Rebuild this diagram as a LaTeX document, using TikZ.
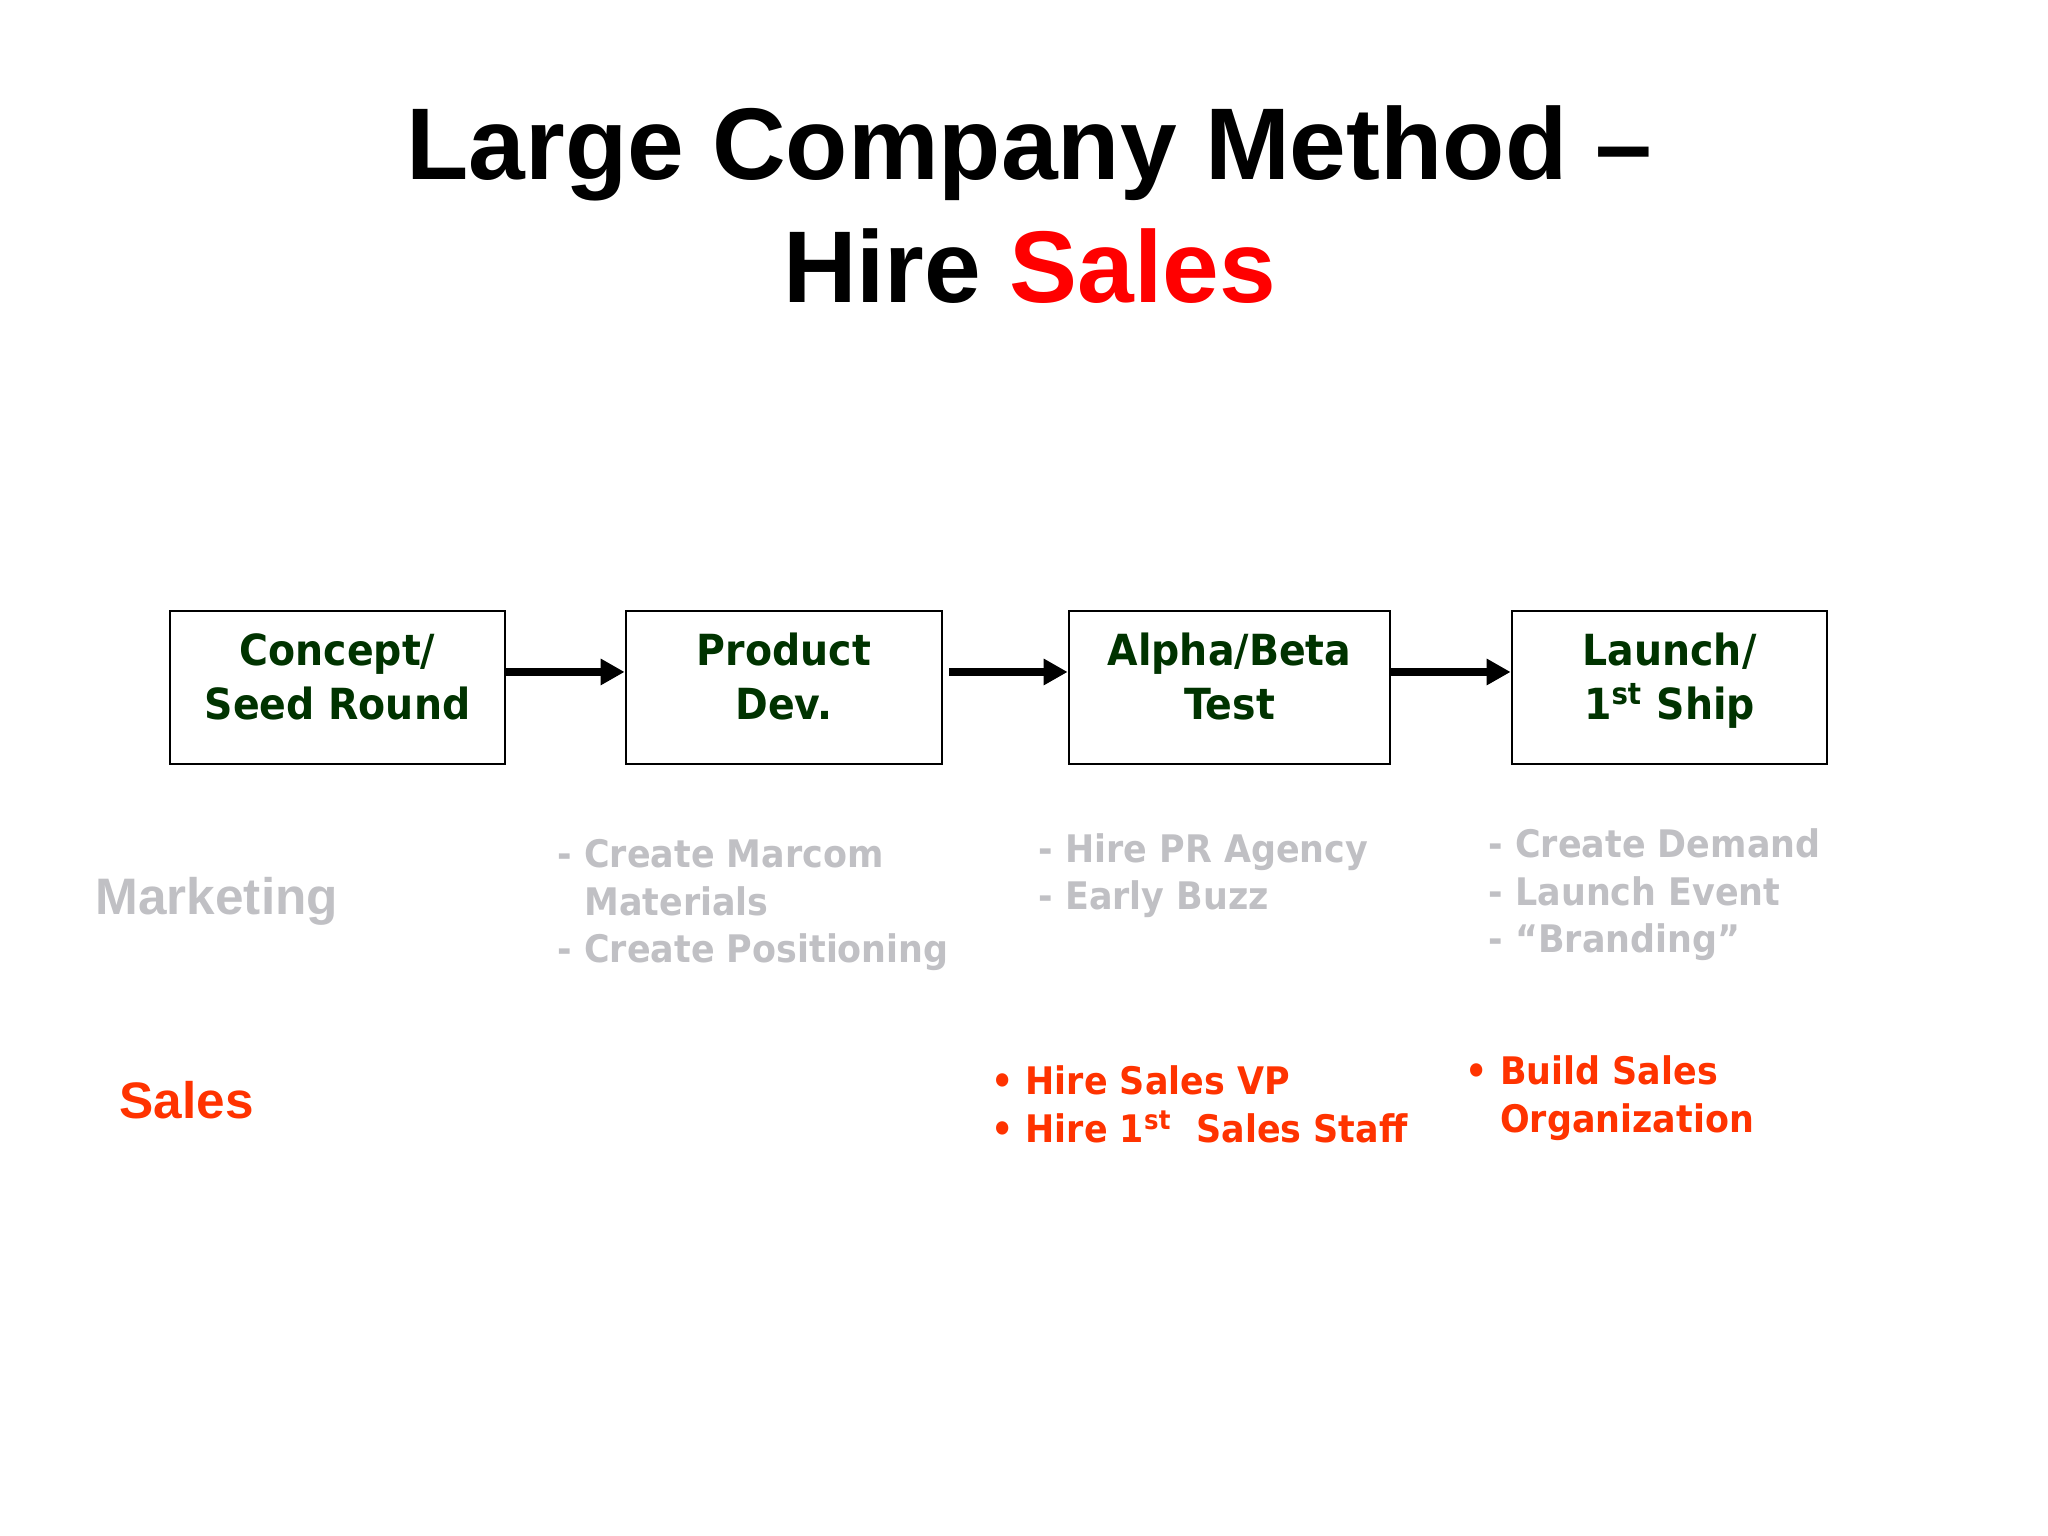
\documentclass[tikz,border=0pt]{standalone}
\usepackage{fontspec}
\setmainfont{Liberation Sans}
\newfontfamily\vbold[FakeStretch=0.92]{DejaVu Sans Bold}
\usetikzlibrary{arrows.meta}
\definecolor{boxgreen}{RGB}{0,51,0}
\definecolor{mktgray}{RGB}{192,192,196}
\definecolor{salesred}{RGB}{255,51,0}

\begin{document}
\begin{tikzpicture}[
    stage/.style={draw, line width=0.8pt, minimum height=1.53cm, inner sep=0pt,
        align=center, text=boxgreen, font=\vbold\fontsize{12.2}{15.4}\selectfont,
        text height=24.6pt, text depth=6.15pt},
    flow/.style={line width=2.3pt, -{Triangle[length=6.8pt,width=7.1pt]}},
    rowlabel/.style={anchor=base west, inner sep=0pt, font=\bfseries\fontsize{14.6}{17}\selectfont},
    mktg/.style={anchor=base west, inner sep=0pt, align=left, text=mktgray,
        font=\vbold\fontsize{10.8}{13.6}\selectfont},
    sales/.style={mktg, text=salesred, font=\vbold\fontsize{10.8}{13.7}\selectfont}
]
    \useasboundingbox[fill=white] (0,0) rectangle (20.48,15.36);

    \node[anchor=north, inner sep=0pt, align=center, font=\bfseries\fontsize{29}{35}\selectfont] (title) at (10.295,14.31)
        {Large Company Method --\\Hire \textcolor{red}{Sales}};

    \node[stage, minimum width=3.35cm] (concept) at (3.375,8.485) {Concept/\\Seed Round};
    \node[stage, minimum width=3.16cm] (product) at (7.84,8.485) {Product\\Dev.};
    \node[stage, minimum width=3.21cm] (alpha) at (12.295,8.485) {Alpha/Beta\\Test};
    \node[stage, minimum width=3.15cm] (launch) at (16.695,8.485) {Launch/\\1\textsuperscript{st} Ship};

    \draw[flow] ([yshift=1.55mm]concept.east) to ([yshift=1.55mm]product.west);
    \draw[flow] ([xshift=0.6mm,yshift=1.55mm]product.east) to ([yshift=1.55mm]alpha.west);
    \draw[flow] ([yshift=1.55mm]alpha.east) to ([yshift=1.55mm]launch.west);

    \node[rowlabel, text=mktgray] (marketing) at (0.95,6.21) {Marketing};
        \node[mktg] (marcom) at (5.57,5.73) {- Create Marcom\\\phantom{- }Materials\\- Create Positioning};
        \node[mktg] (pr) at (10.38,6.26) {- Hire PR Agency\\- Early Buzz};
        \node[mktg] (demand) at (14.88,5.83) {- Create Demand\\- Launch Event\\- “Branding”};

    \node[rowlabel, text=salesred] (saleslabel) at (1.19,4.17) {Sales};
        \node[sales] (salesvp) at (9.905,3.93) {• Hire Sales VP\\• Hire 1\textsuperscript{st}\ \ Sales Staff};
        \node[sales] (salesorg) at (14.65,4.03) {• Build Sales\\\phantom{• }Organization};
\end{tikzpicture}
\end{document}
